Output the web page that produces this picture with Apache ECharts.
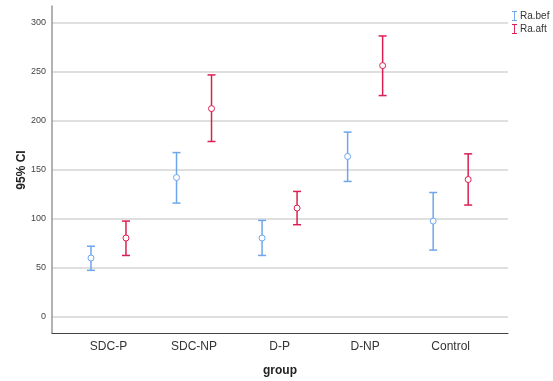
<!DOCTYPE html>
<html>
<head>
<meta charset="utf-8">
<script src="https://cdn.jsdelivr.net/npm/echarts@6/dist/echarts.min.js"></script>
<style>
  html, body { margin: 0; padding: 0; background: #fff; }
  #chart { width: 553px; height: 381px; }
</style>
</head>
<body>
<div id="chart"></div>
<script>
// groups on the x axis
const categories = ['SDC-P', 'SDC-NP', 'D-P', 'D-NP', 'Control'];

// Ra.bef: mean and 95% CI
const befMean = [59.6, 141.8, 80.0, 163.3, 97.3];
const befLow  = [47.0, 115.7, 62.2, 137.8, 67.7];
const befHigh = [71.6, 167.3, 98.0, 188.2, 126.5];

// Ra.aft: mean and 95% CI
const aftMean = [80.0, 212.2, 110.6, 256.1, 139.8];
const aftLow  = [62.2, 178.6, 93.6, 225.5, 113.7];
const aftHigh = [97.3, 246.6, 127.6, 286.4, 166.0];

const yTicks = [0, 50, 100, 150, 200, 250, 300];
const xTicks = [0, 1, 2, 3, 4];

const blue = '#6ea6ec';
const red = '#dc1f52';
const iBeam = 'path://M0,0H8V1.5H4.75V14.5H8V16H0V14.5H3.25V1.5H0Z';

function errorSeries(name, color, mean, low, high, shift) {
  const data = mean.map((m, i) => [i, m, low[i], high[i]]);
  return {
    name: name,
    type: 'custom',
    itemStyle: { color: color },
    data: data,
    encode: { x: 0, y: [1, 2, 3] },
    renderItem: function (params, api) {
      const x = api.value(0);
      const pm = api.coord([x, api.value(1)]);
      const pl = api.coord([x, api.value(2)]);
      const ph = api.coord([x, api.value(3)]);
      const cx = pm[0] + shift;
      const cap = 4;
      const st = { stroke: color, lineWidth: 1.5, fill: null };
      return {
        type: 'group',
        children: [
          { type: 'line', shape: { x1: cx, y1: ph[1], x2: cx, y2: pl[1] }, style: st },
          { type: 'line', shape: { x1: cx - cap, y1: ph[1], x2: cx + cap, y2: ph[1] }, style: st },
          { type: 'line', shape: { x1: cx - cap, y1: pl[1], x2: cx + cap, y2: pl[1] }, style: st },
          { type: 'circle', shape: { cx: cx, cy: pm[1], r: 3 },
            style: { stroke: color, lineWidth: 1, fill: '#fff' } }
        ]
      };
    }
  };
}

const chart = echarts.init(document.getElementById('chart'));
chart.setOption({
  animation: false,
  textStyle: { fontFamily: 'Liberation Sans, Arial, sans-serif' },
  grid: { left: 52, right: 45, top: 6, bottom: 48, outerBoundsMode: 'none', containLabel: false },
  legend: {
    orient: 'vertical',
    left: 507,
    top: 6,
    itemGap: 3,
    itemWidth: 5,
    itemHeight: 10,
    textStyle: { fontSize: 10, color: '#333', padding: [0, 0, 0, -2] },
    data: [
      { name: 'Ra.bef', icon: iBeam, itemStyle: { color: blue } },
      { name: 'Ra.aft', icon: iBeam, itemStyle: { color: red } }
    ]
  },
  // y axis title, placed by hand so it sits close to the tick labels
  graphic: [{
    type: 'text',
    x: 22,
    y: 170,
    rotation: Math.PI / 2,
    style: {
      text: '95% CI',
      align: 'center',
      verticalAlign: 'middle',
      fontSize: 12,
      fontWeight: 'bold',
      fill: '#222',
      fontFamily: 'Liberation Sans, Arial, sans-serif'
    }
  }],
  xAxis: {
    type: 'value',
    min: -0.66,
    max: 4.67,
    name: 'group',
    nameLocation: 'middle',
    nameGap: 32,
    nameTextStyle: { fontSize: 12, fontWeight: 'bold', color: '#222' },
    axisLine: { show: true, onZero: false, lineStyle: { color: '#444', width: 1 } },
    axisTick: { show: false, customValues: xTicks },
    splitLine: { show: false },
    axisLabel: {
      customValues: xTicks,
      margin: 8,
      fontSize: 12,
      color: '#333',
      formatter: function (v) { return categories[Math.round(v)]; }
    }
  },
  yAxis: {
    type: 'value',
    min: -17,
    max: 317,
    axisLine: { show: true, onZero: false, lineStyle: { color: '#999', width: 1.5 } },
    axisTick: { show: false, customValues: yTicks },
    axisLabel: { customValues: yTicks, margin: 6, fontSize: 9, color: '#444' },
    splitLine: { show: true, lineStyle: { color: '#d4d4d4', width: 1.5 } }
  },
  series: [
    errorSeries('Ra.bef', blue, befMean, befLow, befHigh, -17.5),
    errorSeries('Ra.aft', red, aftMean, aftLow, aftHigh, 17.5)
  ]
});
</script>
</body>
</html>
